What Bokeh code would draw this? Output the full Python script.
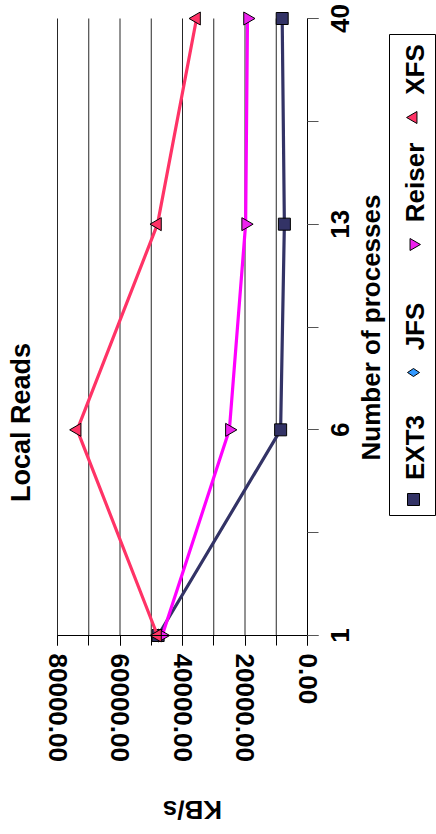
import math
from bokeh.plotting import figure
from bokeh.models import (Range1d, FixedTicker, NumeralTickFormatter, Label, LinearAxis)
from bokeh.core.properties import value
from bokeh.embed import file_html
from bokeh.resources import INLINE

# Local read throughput (KB/s) per file system, by number of processes
categories = ["1", "6", "13", "40"]
ext3 = [47800, 8600, 7400, 8100]
jfs = [None, None, None, None]
reiser = [46500, 25000, 19800, 19200]
xfs = [48000, 73700, 48000, 35500]

value_ticks = [0, 20000, 40000, 60000, 80000]
grid_ticks = [0, 10000, 20000, 30000, 40000, 50000, 60000, 70000, 80000]

FONT = "Liberation Sans"
W, H = 436, 834
idx = list(range(len(categories)))

# The chart is turned a quarter turn: values run right-to-left and the
# categories run bottom-to-top.  The plot area spans x 57..307 px
# (80000..0 KB/s) and y 635..18 px (first..last category).
PX_LEFT, PX_RIGHT, PX_BOTTOM, PX_TOP = 57, 307, 635, 18
V_PER_PX = 80000 / (PX_RIGHT - PX_LEFT)
PX_PER_CAT = (PX_BOTTOM - PX_TOP) / (len(categories) - 1)


def vx(px):
    return (PX_RIGHT - px) * V_PER_PX


def cy(py):
    return (PX_BOTTOM - py) / PX_PER_CAT


p = figure(width=W, height=H, output_backend="svg", toolbar_location=None,
           x_range=Range1d(vx(0), vx(W)), y_range=Range1d(cy(H), cy(0)),
           x_axis_location=None, y_axis_location=None,
           min_border=0, min_border_left=0, min_border_right=0,
           min_border_top=0, min_border_bottom=0)
p.outline_line_color = None
p.background_fill_color = "white"
p.grid.visible = False

# vertical gridlines every 10000 KB/s
p.segment(x0=grid_ticks, y0=[0] * len(grid_ticks), x1=grid_ticks,
          y1=[len(categories) - 1] * len(grid_ticks),
          line_color="black", line_alpha=0.85, line_width=1)

# value axis (KB/s) along the bottom of the plot area
xa = LinearAxis(fixed_location=0, bounds=(0, 80000),
                ticker=FixedTicker(ticks=value_ticks, minor_ticks=grid_ticks),
                formatter=NumeralTickFormatter(format="0.00"))
xa.major_label_orientation = "vertical"
xa.major_tick_out = 10
xa.major_tick_in = 0
xa.minor_tick_out = 10
xa.minor_tick_in = 0
xa.major_label_standoff = 8
xa.axis_line_color = "black"
xa.major_tick_line_color = "black"
xa.minor_tick_line_color = "black"
xa.major_label_text_font = FONT
xa.major_label_text_font_style = "bold"
xa.major_label_text_font_size = "26px"
xa.major_label_text_color = "black"
p.add_layout(xa, "below")

# category axis (number of processes) along the right of the plot area
ya = LinearAxis(fixed_location=0, bounds=(0, len(categories) - 1),
                ticker=FixedTicker(ticks=idx,
                                   minor_ticks=[0, 0.5, 1, 1.5, 2, 2.5, 3]))
ya.major_label_overrides = {i: "" for i in idx}
ya.major_tick_out = 11
ya.major_tick_in = 0
ya.minor_tick_out = 11
ya.minor_tick_in = 0
ya.axis_line_color = "black"
ya.major_tick_line_color = "#555555"
ya.minor_tick_line_color = "#555555"
p.add_layout(ya, "right")

# series lines and markers
series = [
    ("EXT3", ext3, "#333366", "#333366", "square", 12),
    ("JFS", jfs, "#3399FF", "#3399FF", "diamond", 12),
    ("Reiser", reiser, "#FF00FF", "#EE22EE", "inverted_triangle", 13),
    ("XFS", xfs, "#FF3366", "#FF3366", "triangle", 13),
]
for name, vals, lc, fc, mk, sz in series:
    xs = [float("nan") if v is None else v for v in vals]
    p.line(xs, idx, line_color=lc, line_width=3.2)
    p.scatter(xs, idx, marker=mk, size=sz, angle=math.pi / 2,
              fill_color=fc, line_color="black", line_width=1)


def add_text(text, px, py, angle=math.pi / 2, size="26px"):
    p.add_layout(Label(x=vx(px), y=cy(py), text=text, angle=angle,
                       text_align="center", text_baseline="middle",
                       text_font=FONT, text_font_style="bold",
                       text_font_size=size, text_color="black"))


# category labels beside the right-hand axis
for i, c in enumerate(categories):
    p.add_layout(Label(x=vx(339), y=i, text=c, angle=math.pi / 2,
                       text_align="center", text_baseline="middle",
                       text_font=FONT, text_font_style="bold",
                       text_font_size="26px", text_color="black"))

add_text("Number of processes", 370, 327)
add_text("Local Reads", 20, 422, size="27px")
add_text("KB/s", 192, 809, angle=math.pi)

# legend, boxed at the right edge
p.quad(left=[vx(389)], right=[vx(435)], top=[cy(34)], bottom=[cy(515)],
       fill_color="white", line_color="black", line_width=1)

legend_marker_py = [499, 372, 244, 117]
legend_text_py = [447, 326, 182, 69]
for (name, vals, lc, fc, mk, sz), my, ty in zip(series, legend_marker_py, legend_text_py):
    p.scatter([vx(413)], [cy(my)], marker=mk, size=12, angle=math.pi / 2,
              fill_color=fc, line_color="black", line_width=1)
    add_text(name, 414, ty)

open("out.html", "w").write(file_html(p, INLINE))
